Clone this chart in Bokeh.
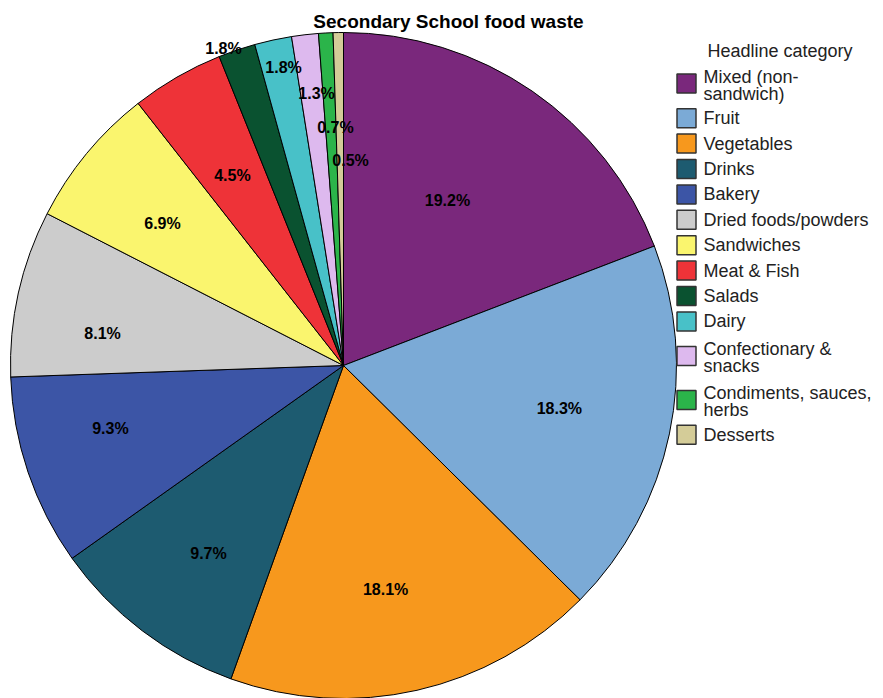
import math
from bokeh.plotting import figure
from bokeh.models import Range1d, ColumnDataSource
from bokeh.core.properties import value
from bokeh.embed import file_html
from bokeh.resources import INLINE

# ---- data ----
title = "Secondary School food waste"
legend_title = "Headline category"
categories = ["Mixed (non-sandwich)", "Fruit", "Vegetables", "Drinks", "Bakery",
              "Dried foods/powders", "Sandwiches", "Meat & Fish", "Salads", "Dairy",
              "Confectionary & snacks", "Condiments, sauces, herbs", "Desserts"]
legend_lines = [["Mixed (non-", "sandwich)"], ["Fruit"], ["Vegetables"], ["Drinks"], ["Bakery"],
                ["Dried foods/powders"], ["Sandwiches"], ["Meat & Fish"], ["Salads"], ["Dairy"],
                ["Confectionary &", "snacks"], ["Condiments, sauces,", "herbs"], ["Desserts"]]
percent = [19.2, 18.3, 18.1, 9.7, 9.3, 8.1, 6.9, 4.5, 1.8, 1.8, 1.3, 0.7, 0.5]

# ---- style ----
colors = ["#7A287C", "#7BAAD6", "#F7981D", "#1D5B70", "#3C55A6", "#CCCCCC", "#FAF56E",
          "#EE3338", "#0A5230", "#48C1C8", "#DDB9EE", "#2BB44A", "#D4CC98"]
# label placement: radius as fraction of pie radius, and angular nudge (degrees, clockwise)
label_r = [0.586, 0.661, 0.684, 0.695, 0.725, 0.730, 0.691, 0.661, 1.018, 0.913, 0.821, 0.715, 0.616]
label_nudge = [-2.3, -0.6, 2.1, -1.5, 3.55, -5.0, -1.4, -0.3, -2.05, 0.84, 1.0, 1.1, 2.86]

W, H = 883, 698
CX, CY_S, R = 343, 365, 333
CY = H - CY_S
FONT = value("Liberation Sans")

p = figure(width=W, height=H, output_backend="svg", toolbar_location=None,
           x_range=Range1d(0, W), y_range=Range1d(0, H),
           x_axis_type=None, y_axis_type=None, min_border=0)
p.outline_line_color = None
p.grid.visible = False
p.background_fill_color = "white"
p.border_fill_color = "white"

total = sum(percent)
starts, ends, lx, ly, labels = [], [], [], [], []
cum = 0.0
for v, rf, nd in zip(percent, label_r, label_nudge):
    c0 = cum / total
    c1 = (cum + v) / total
    starts.append(math.pi / 2 - 2 * math.pi * c1)
    ends.append(math.pi / 2 - 2 * math.pi * c0)
    cw = 2 * math.pi * (c0 + c1) / 2 + math.radians(nd)   # clockwise from top
    lx.append(CX + rf * R * math.sin(cw))
    ly.append(CY + rf * R * math.cos(cw))
    labels.append(f"{v:.1f}%")
    cum += v

src = ColumnDataSource(dict(start=starts, end=ends, color=colors, cat=categories))
p.wedge(x=CX, y=CY, radius=R, start_angle="start", end_angle="end",
        fill_color="color", line_color="black", line_width=1, source=src)

p.text(x=lx, y=ly, text=labels, text_align="center", text_baseline="middle",
       text_font=FONT, text_font_style="bold", text_font_size=value("16px"),
       text_color="black")

# title
p.text(x=[448], y=[H - 21], text=[title], text_align="center", text_baseline="middle",
       text_font=FONT, text_font_style="bold", text_font_size=value("19px"), text_color="black")

# legend
p.text(x=[707], y=[H - 50], text=[legend_title], text_align="left", text_baseline="middle",
       text_font=FONT, text_font_size=value("18px"), text_color="#222222")

sx, sy, tx, ty, tt = [], [], [], [], []
top = 61
for lines in legend_lines:
    h = 25.4 if len(lines) == 1 else 44
    yc = top + h / 2
    sx.append(686)
    sy.append(H - yc)
    if len(lines) == 1:
        tx.append(703); ty.append(H - yc); tt.append(lines[0])
    else:
        tx.append(703); ty.append(H - (yc - 7)); tt.append(lines[0])
        tx.append(703); ty.append(H - (yc + 10)); tt.append(lines[1])
    top += h

p.rect(x=sx, y=sy, width=19, height=19, fill_color=colors, line_color="#333333", line_width=1.5)
p.text(x=tx, y=ty, text=tt, text_align="left", text_baseline="middle",
       text_font=FONT, text_font_size=value("18px"), text_color="#222222")

open("out.html", "w").write(file_html(p, INLINE))
